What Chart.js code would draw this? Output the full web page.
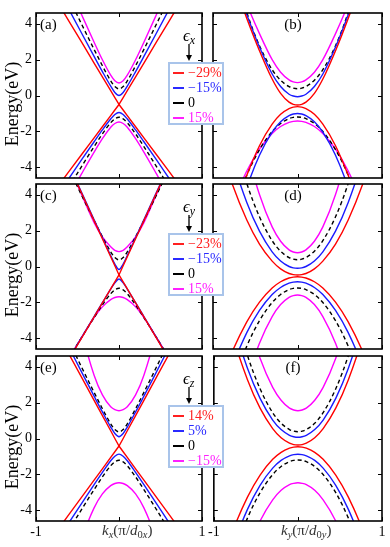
<!DOCTYPE html>
<html>
<head>
<meta charset="utf-8">
<script src="https://cdn.jsdelivr.net/npm/chart.js@4.4.1/dist/chart.umd.min.js"></script>
<style>
  body { margin: 0; width: 390px; height: 547px; background: #fff; position: relative; overflow: hidden;
         font-family: "Liberation Serif", "Times New Roman", serif; }
  canvas { position: absolute; }
  .t { position: absolute; color: #000; white-space: nowrap; line-height: 1; }
  .t sub { font-size: 70%; vertical-align: -3px; line-height: 0; }
  .leg { position: absolute; background: #fff; border: 2px solid #a9c4ea; box-sizing: border-box; }
  .sample { position: absolute; width: 11px; height: 0; }
</style>
</head>
<body>
<script>
// wave vector grid, in units of pi/d0
const K = [-1, -0.8, -0.6, -0.45, -0.3, -0.2, -0.1, -0.05, 0, 0.05, 0.1, 0.2, 0.3, 0.45, 0.6, 0.8, 1];
const Y_TICKS = [-4, -2, 0, 2, 4];
const X_TICKS = [-1, 0, 1];

// unstrained bands (black dashed)
const zeroC_x = [9.21, 7.30, 5.40, 3.97, 2.57, 1.66, 0.82, 0.50, 0.37, 0.50, 0.82, 1.66, 2.57, 3.97, 5.40, 7.30, 9.21];
const zeroV_x = [-8.11, -6.59, -5.08, -3.95, -2.85, -2.14, -1.52, -1.30, -1.21, -1.30, -1.52, -2.14, -2.85, -3.95, -5.08, -6.59, -8.11];
const zeroC_y = [12.18, 7.93, 4.63, 2.77, 1.44, 0.85, 0.50, 0.41, 0.38, 0.41, 0.50, 0.85, 1.44, 2.77, 4.63, 7.93, 12.18];
const zeroV_y = [-10.2, -6.96, -4.44, -3.02, -2.01, -1.56, -1.29, -1.22, -1.20, -1.22, -1.29, -1.56, -2.01, -3.02, -4.44, -6.96, -10.2];

// (a) eps_x along kx
const aRedC = [7.2, 5.66, 4.12, 2.97, 1.81, 1.04, 0.27, -0.12, -0.5, -0.12, 0.27, 1.04, 1.81, 2.97, 4.12, 5.66, 7.2];
const aRedV = [-6.7, -5.46, -4.22, -3.29, -2.36, -1.74, -1.12, -0.81, -0.5, -0.81, -1.12, -1.74, -2.36, -3.29, -4.22, -5.46, -6.7];
const aBluC = [8.25, 6.51, 4.77, 3.47, 2.18, 1.33, 0.52, 0.17, 0.0, 0.17, 0.52, 1.33, 2.18, 3.47, 4.77, 6.51, 8.25];
const aBluV = [-7.32, -5.96, -4.6, -3.58, -2.58, -1.92, -1.31, -1.06, -0.95, -1.06, -1.31, -1.92, -2.58, -3.58, -4.6, -5.96, -7.32];
const aMagC = [10.25, 8.15, 6.05, 4.5, 2.97, 1.99, 1.13, 0.82, 0.7, 0.82, 1.13, 1.99, 2.97, 4.5, 6.05, 8.15, 10.25];
const aMagV = [-8.93, -7.26, -5.59, -4.36, -3.16, -2.41, -1.77, -1.56, -1.48, -1.56, -1.77, -2.41, -3.16, -4.36, -5.59, -7.26, -8.93];

// (b) eps_x along ky
const bRedC = [9.5, 6.9, 4.3, 2.5, 0.92, 0.12, -0.37, -0.49, -0.53, -0.49, -0.37, 0.12, 0.92, 2.5, 4.3, 6.9, 9.5];
const bRedV = [-9.6, -7.0, -4.45, -2.8, -1.6, -1.05, -0.73, -0.65, -0.62, -0.65, -0.73, -1.05, -1.6, -2.8, -4.45, -7.0, -9.6];
const bBluC = [9.5, 7.0, 4.5, 2.7, 1.2, 0.5, 0.07, -0.03, -0.07, -0.03, 0.07, 0.5, 1.2, 2.7, 4.5, 7.0, 9.5];
const bBluV = [-12.5, -8.36, -5.14, -3.33, -2.04, -1.46, -1.12, -1.03, -1.0, -1.03, -1.12, -1.46, -2.04, -3.33, -5.14, -8.36, -12.5];
const bMagC = [10.3, 7.7, 5.1, 3.45, 2.0, 1.3, 0.87, 0.76, 0.72, 0.76, 0.87, 1.3, 2.0, 3.45, 5.1, 7.7, 10.3];
const bMagV = [-9.18, -6.39, -4.21, -2.99, -2.12, -1.73, -1.5, -1.44, -1.42, -1.44, -1.5, -1.73, -2.12, -2.99, -4.21, -6.39, -9.18];

// (c) eps_y along kx
const cRedC = [9.63, 7.61, 5.6, 4.08, 2.56, 1.55, 0.54, 0.04, -0.47, 0.04, 0.54, 1.55, 2.56, 4.08, 5.6, 7.61, 9.63];
const cRedV = [-8.27, -6.71, -5.15, -3.98, -2.81, -2.03, -1.25, -0.86, -0.47, -0.86, -1.25, -2.03, -2.81, -3.98, -5.15, -6.71, -8.27];
const cBluC = [9.67, 7.65, 5.63, 4.12, 2.61, 1.6, 0.61, 0.14, -0.17, 0.14, 0.61, 1.6, 2.61, 4.12, 5.63, 7.65, 9.67];
const cBluV = [-8.24, -6.68, -5.12, -3.95, -2.79, -2.02, -1.26, -0.91, -0.7, -0.91, -1.26, -2.02, -2.79, -3.95, -5.12, -6.68, -8.24];
const cMagC = [9.7, 7.65, 5.6, 4.0, 2.45, 1.65, 1.1, 0.9, 0.83, 0.9, 1.1, 1.65, 2.45, 4.0, 5.6, 7.65, 9.7];
const cMagV = [-8.3, -6.7, -5.1, -3.95, -2.85, -2.25, -1.85, -1.73, -1.69, -1.73, -1.85, -2.25, -2.85, -3.95, -5.1, -6.7, -8.3];

// (d) eps_y along ky
const dRedC = [8.03, 4.97, 2.59, 1.25, 0.3, -0.13, -0.39, -0.45, -0.47, -0.45, -0.39, -0.13, 0.3, 1.25, 2.59, 4.97, 8.03];
const dRedV = [-7.57, -5.05, -3.09, -1.99, -1.2, -0.85, -0.64, -0.59, -0.57, -0.59, -0.64, -0.85, -1.2, -1.99, -3.09, -5.05, -7.57];
const dBluC = [10.1, 6.43, 3.57, 1.97, 0.82, 0.31, 0.0, -0.08, -0.1, -0.08, 0.0, 0.31, 0.82, 1.97, 3.57, 6.43, 10.1];
const dBluV = [-8.75, -5.91, -3.69, -2.45, -1.56, -1.17, -0.93, -0.87, -0.85, -0.87, -0.93, -1.17, -1.56, -2.45, -3.69, -5.91, -8.75];
const dMagC = [16.8, 11.0, 6.53, 4.01, 2.21, 1.41, 0.93, 0.81, 0.77, 0.81, 0.93, 1.41, 2.21, 4.01, 6.53, 11.0, 16.8];
const dMagV = [-14.9, -10.1, -6.38, -4.28, -2.79, -2.12, -1.72, -1.62, -1.59, -1.62, -1.72, -2.12, -2.79, -4.28, -6.38, -10.1, -14.9];

// (e) eps_z along kx
const eRedC = [8.08, 6.38, 4.68, 3.41, 2.13, 1.28, 0.43, 0.0, -0.42, 0.0, 0.43, 1.28, 2.13, 3.41, 4.68, 6.38, 8.08];
const eRedV = [-6.75, -5.48, -4.22, -3.27, -2.32, -1.69, -1.05, -0.74, -0.42, -0.74, -1.05, -1.69, -2.32, -3.27, -4.22, -5.48, -6.75];
const eBluC = [8.65, 6.85, 5.05, 3.7, 2.36, 1.48, 0.64, 0.28, 0.1, 0.28, 0.64, 1.48, 2.36, 3.7, 5.05, 6.85, 8.65];
const eBluV = [-7.5, -6.09, -4.67, -3.62, -2.57, -1.89, -1.24, -0.99, -0.87, -0.99, -1.24, -1.89, -2.57, -3.62, -4.67, -6.09, -7.5];
const eMagC = [23.5, 15.6, 9.47, 6.0, 3.53, 2.43, 1.77, 1.61, 1.55, 1.61, 1.77, 2.43, 3.53, 6.0, 9.47, 15.6, 23.5];
const eMagV = [-18.1, -12.5, -8.1, -5.63, -3.87, -3.09, -2.63, -2.51, -2.47, -2.51, -2.63, -3.09, -3.87, -5.63, -8.1, -12.5, -18.1];

// (f) eps_z along ky
const fRedC = [9.74, 6.1, 3.28, 1.69, 0.55, 0.04, -0.26, -0.34, -0.36, -0.34, -0.26, 0.04, 0.55, 1.69, 3.28, 6.1, 9.74];
const fRedV = [-8.26, -5.45, -3.27, -2.04, -1.16, -0.77, -0.54, -0.48, -0.46, -0.48, -0.54, -0.77, -1.16, -2.04, -3.27, -5.45, -8.26];
const fBluC = [10.77, 6.92, 3.92, 2.24, 1.03, 0.5, 0.18, 0.1, 0.07, 0.1, 0.18, 0.5, 1.03, 2.24, 3.92, 6.92, 10.77];
const fBluV = [-9.42, -6.35, -3.95, -2.61, -1.65, -1.22, -0.97, -0.9, -0.88, -0.9, -0.97, -1.22, -1.65, -2.61, -3.95, -6.35, -9.42];
const fMagC = [15.95, 10.77, 6.73, 4.47, 2.85, 2.13, 1.69, 1.59, 1.55, 1.59, 1.69, 2.13, 2.85, 4.47, 6.73, 10.77, 15.95];
const fMagV = [-12.97, -9.19, -6.25, -4.6, -3.42, -2.89, -2.57, -2.5, -2.47, -2.5, -2.57, -2.89, -3.42, -4.6, -6.25, -9.19, -12.97];

// legend labels per row, colours in order red, blue, black, magenta
const LEG_AB = ['\u221229%', '\u221215%', '0', '15%'];
const LEG_CD = ['\u221223%', '\u221215%', '0', '15%'];
const LEG_EF = ['14%', '5%', '0', '\u221215%'];
const EPS_SUB = ['x', 'y', 'z'];

const COLORS = { r: '#ff0000', b: '#1a1aff', k: '#000000', m: '#ff00ff' };
const LEG_COLORS = ['#ff2020', '#2a2aff', '#000000', '#ff20ff'];

const ROW_TOP = [13, 184, 356];
const PANEL_H = 165;

const panels = [
    { col: 0, row: 0, tag: '(a)', sets: [[aRedC, 'r', 1], [aRedV, 'r', 1], [aBluC, 'b'], [aBluV, 'b'], [zeroC_x, 'k'], [zeroV_x, 'k'], [aMagC, 'm'], [aMagV, 'm']] },
    { col: 1, row: 0, tag: '(b)', sets: [[bRedC, 'r'], [bRedV, 'r'], [bBluC, 'b'], [bBluV, 'b'], [zeroC_y, 'k'], [zeroV_y, 'k'], [bMagC, 'm'], [bMagV, 'm']] },
    { col: 0, row: 1, tag: '(c)', sets: [[cRedC, 'r', 1], [cRedV, 'r', 1], [cBluC, 'b'], [cBluV, 'b'], [zeroC_x, 'k'], [zeroV_x, 'k'], [cMagC, 'm'], [cMagV, 'm']] },
    { col: 1, row: 1, tag: '(d)', sets: [[dRedC, 'r'], [dRedV, 'r'], [dBluC, 'b'], [dBluV, 'b'], [zeroC_y, 'k'], [zeroV_y, 'k'], [dMagC, 'm'], [dMagV, 'm']] },
    { col: 0, row: 2, tag: '(e)', sets: [[eRedC, 'r', 1], [eRedV, 'r', 1], [eBluC, 'b'], [eBluV, 'b'], [zeroC_x, 'k'], [zeroV_x, 'k'], [eMagC, 'm'], [eMagV, 'm']] },
    { col: 1, row: 2, tag: '(f)', sets: [[fRedC, 'r'], [fRedV, 'r'], [fBluC, 'b'], [fBluV, 'b'], [zeroC_y, 'k'], [zeroV_y, 'k'], [fMagC, 'm'], [fMagV, 'm']] }
];

// frame around the plot area plus inward tick marks on all four sides
const boxTicks = {
    id: 'boxTicks',
    afterDraw(chart) {
        const { ctx, chartArea: a, scales: { x, y } } = chart;
        ctx.save();
        ctx.strokeStyle = '#000';
        ctx.lineWidth = 1;
        ctx.beginPath();
        Y_TICKS.forEach(v => {
            const py = Math.round(y.getPixelForValue(v)) + 0.5;
            ctx.moveTo(a.left, py); ctx.lineTo(a.left + 4, py);
            ctx.moveTo(a.right, py); ctx.lineTo(a.right - 4, py);
        });
        X_TICKS.forEach(v => {
            const px = Math.round(x.getPixelForValue(v)) + 0.5;
            ctx.moveTo(px, a.top); ctx.lineTo(px, a.top + 4);
            ctx.moveTo(px, a.bottom); ctx.lineTo(px, a.bottom - 4);
        });
        ctx.stroke();
        ctx.lineWidth = 1.6;
        ctx.strokeRect(a.left, a.top, a.right - a.left, a.bottom - a.top);
        ctx.restore();
    }
};

const tickFont = { family: '"Liberation Serif", serif', size: 14 };

function makePanel(p) {
    const bottomRow = p.row === 2;
    const padTop = 14;
    const left = p.col === 0 ? 0 : 205;
    const width = p.col === 0 ? 210 : 185;
    const height = padTop + PANEL_H + (bottomRow ? 22 : 14);
    const canvas = document.createElement('canvas');
    canvas.width = width;
    canvas.height = height;
    canvas.style.left = left + 'px';
    canvas.style.top = (ROW_TOP[p.row] - padTop) + 'px';
    document.body.appendChild(canvas);

    const datasets = p.sets.map(([vals, c, sharp]) => ({
        data: K.map((k, i) => ({ x: k, y: vals[i] })),
        borderColor: COLORS[c],
        borderWidth: 1.4,
        borderDash: c === 'k' ? [4, 3] : [],
        pointRadius: 0,
        tension: 0,
        cubicInterpolationMode: sharp ? 'default' : 'monotone'
    }));

    new Chart(canvas, {
        type: 'line',
        data: { datasets },
        options: {
            responsive: false,
            animation: false,
            events: [],
            layout: { padding: { left: p.col === 0 ? 0 : 8, right: 8, top: padTop, bottom: bottomRow ? 4 : 14 } },
            plugins: { legend: { display: false }, tooltip: { enabled: false } },
            scales: {
                x: {
                    type: 'linear', min: -1, max: 1,
                    grid: { display: false, drawTicks: false }, border: { display: false },
                    afterBuildTicks: s => { s.ticks = X_TICKS.map(v => ({ value: v })); },
                    afterFit: s => { s.height = bottomRow ? 18 : 0; },
                    ticks: {
                        display: bottomRow, color: '#000', font: tickFont, padding: 3,
                        maxRotation: 0, autoSkip: false,
                        callback: v => (v === 0 ? '' : String(v))
                    }
                },
                y: {
                    type: 'linear', min: -4.6, max: 4.6,
                    grid: { display: false, drawTicks: false }, border: { display: false },
                    afterBuildTicks: s => { s.ticks = Y_TICKS.map(v => ({ value: v })); },
                    afterFit: s => { s.width = p.col === 0 ? 36 : 0; },
                    ticks: { display: p.col === 0, color: '#000', font: tickFont, padding: 4 }
                }
            }
        },
        plugins: [boxTicks]
    });
}

function addText(html, left, top, size, extra) {
    const d = document.createElement('div');
    d.className = 't';
    d.innerHTML = html;
    d.style.left = left + 'px';
    d.style.top = top + 'px';
    d.style.fontSize = size + 'px';
    Object.assign(d.style, extra || {});
    document.body.appendChild(d);
    return d;
}

panels.forEach(makePanel);

// panel tags
panels.forEach(p => {
    const top = ROW_TOP[p.row] + 4;
    if (p.col === 0) addText(p.tag, 40, top, 15);
    else addText(p.tag, 273, top, 15, { width: '40px', textAlign: 'center' });
});

// y axis titles
ROW_TOP.forEach(t => {
    addText('Energy(eV)', 12 - 60, t + 91 - 9, 18, { width: '120px', textAlign: 'center', transform: 'rotate(-90deg)' });
});

// x axis titles
addText('<i>k</i><sub><i>x</i></sub>(\u03c0/<i>d</i><sub>0<i>x</i></sub>)', 102, 523, 15, { color: '#333' });
addText('<i>k</i><sub><i>y</i></sub>(\u03c0/<i>d</i><sub>0<i>y</i></sub>)', 281, 523, 15, { color: '#333' });

// strain legends spanning the two columns
[LEG_AB, LEG_CD, LEG_EF].forEach((labels, r) => {
    const t = ROW_TOP[r];
    addText('<i>\u03f5</i><sub><i>' + EPS_SUB[r] + '</i></sub>', 183, t + 14, 17);
    const svgNS = 'http://www.w3.org/2000/svg';
    const svg = document.createElementNS(svgNS, 'svg');
    svg.setAttribute('width', '10');
    svg.setAttribute('height', '20');
    svg.style.position = 'absolute';
    svg.style.left = '184px';
    svg.style.top = (t + 31) + 'px';
    svg.innerHTML = '<line x1="5" y1="0" x2="5" y2="12" stroke="#000" stroke-width="1.3"/>' +
        '<polygon points="2,11 8,11 5,17" fill="#000"/>';
    document.body.appendChild(svg);

    const box = document.createElement('div');
    box.className = 'leg';
    box.style.left = '168px';
    box.style.top = (t + 49) + 'px';
    box.style.width = '56px';
    box.style.height = '63px';
    document.body.appendChild(box);

    labels.forEach((txt, i) => {
        const cy = t + 60 + 15 * i;
        const s = document.createElement('div');
        s.className = 'sample';
        s.style.left = '173px';
        s.style.top = (cy - 1) + 'px';
        s.style.borderTop = i === 2 ? '2px dashed #000' : '2px solid ' + LEG_COLORS[i];
        document.body.appendChild(s);
        addText(txt, 188, cy - 7, 14, { color: LEG_COLORS[i] });
    });
});
</script>
</body>
</html>
